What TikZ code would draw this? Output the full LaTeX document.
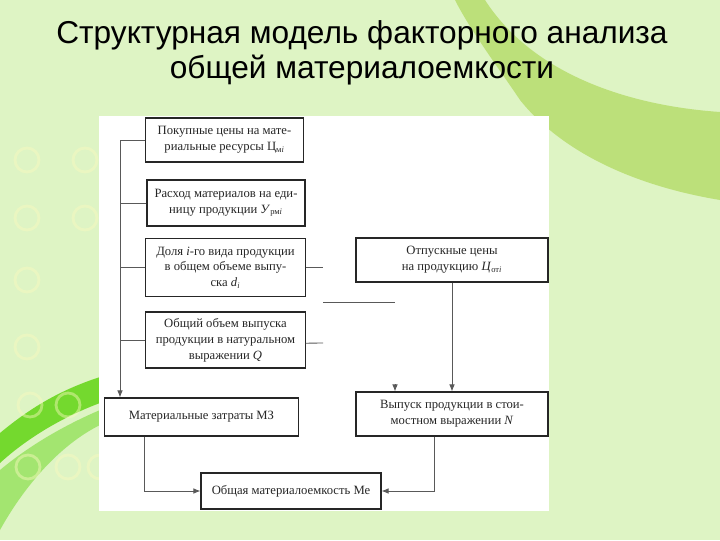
\documentclass[tikz,border=0pt]{standalone}
\usepackage{xcolor}
\usepackage{fontspec}
\setmainfont{Liberation Serif}
\newfontfamily\titlefont{Liberation Sans}
\usepackage{tikz}
\usetikzlibrary{arrows.meta}

\definecolor{slidebg}{RGB}{222,244,196}
\definecolor{swoosh}{RGB}{188,224,122}
\definecolor{brightgreen}{RGB}{105,215,30}
\definecolor{ringcol}{RGB}{250,250,190}

\begin{document}
\begin{tikzpicture}[x=0.025cm, y=-0.025cm, thick, font=\fontsize{9}{11.3}\selectfont]
    \tikzstyle{block} = [rectangle, draw=black!85, line width=0.8pt, fill=white, text=black!85, align=center, inner sep=2pt]
    \tikzstyle{line} = [draw, black!65, line width=0.6pt, -{Latex[length=5pt, width=4pt]}]
    \tikzstyle{wire} = [draw, black!65, line width=0.6pt]
    \tikzstyle{headline} = [font=\titlefont\fontsize{22.5}{25}\selectfont, anchor=base]

    % slide background
    \useasboundingbox (0,0) rectangle (720,540);
    \fill[slidebg] (0,0) rectangle (720,540);
    \fill[swoosh] (485,0) .. controls (530,70) and (620,105) .. (720,112) -- (720,200) .. controls (630,185) and (560,150) .. (520,100) .. controls (500,70) and (470,30) .. (455,0) -- cycle;
    \fill[brightgreen, opacity=0.5] (0,470) .. controls (30,445) and (65,425) .. (100,410) -- (100,425) .. controls (60,445) and (25,485) .. (0,530) -- cycle;
    \fill[brightgreen, opacity=0.9] (0,433) .. controls (30,408) and (60,390) .. (100,377) -- (100,403) .. controls (60,418) and (25,440) .. (0,463) -- cycle;
    \foreach \cx/\cy in {27/160, 85/160, 27/218, 85/218, 27/280, 27/347, 30/405, 68/405, 28/467, 68/467, 100/467}
        \draw[ringcol, opacity=0.45, line width=2pt] (\cx,\cy) circle (12);
    \fill[white] (99,116) rectangle (549,511);

    % title
    \node [headline] (title1) at (362,43) {Структурная модель факторного анализа};
    \node [headline] (title2) at (362,78) {общей материалоемкости};

    % factor blocks
    \node [block, minimum width=3.93cm, minimum height=1.1cm] (price) at (224.5,140) {Покупные цены на мате-\\риальные ресурсы Ц\textsubscript{м\textit{i}}};
    \node [block, minimum width=3.95cm, minimum height=1.15cm] (norm) at (226,203) {Расход материалов на еди-\\ницу продукции \textit{У}\textsubscript{рм\textit{i}}};
    \node [block, minimum width=3.98cm, minimum height=1.43cm] (share) at (225.5,267.5) {Доля \textit{i}-го вида продукции\\в общем объеме выпу-\\ска \textit{d}\textsubscript{\textit{i}}};
    \node [block, minimum width=3.98cm, minimum height=1.4cm] (volume) at (225.5,340) {Общий объем выпуска\\продукции в натуральном\\выражении \textit{Q}};
    \node [block, minimum width=4.8cm, minimum height=1.1cm] (sale) at (452,260) {Отпускные цены\\на продукцию \textit{Ц}\textsubscript{от\textit{i}}};
    \node [block, minimum width=4.8cm, minimum height=1.1cm] (output) at (452,414) {Выпуск продукции в стои-\\мостном выражении \textit{N}};
    \node [block, minimum width=4.83cm, minimum height=0.95cm] (cost) at (201.5,417) {Материальные затраты МЗ};
    \node [block, minimum width=4.5cm, minimum height=0.9cm] (intensity) at (291,491) {Общая материалоемкость Ме};

    \coordinate (bus) at (120,140);
    \coordinate (stubA) at (323,267.5);
    \coordinate (stubB) at (323,343);
    \coordinate (midA) at (323,302);
    \coordinate (midB) at (395,302);
    \coordinate (drop) at (395,384);

    % connectors
    \path [line] (price.west) -- (bus) -- (bus |- cost.north);
    \path [wire] (norm.west) -- (norm.west -| bus);
    \path [wire] (share.west) -- (share.west -| bus);
    \path [wire] (volume.west) -- (volume.west -| bus);
    \path [wire] (share.east) -- (stubA);
    \path [wire] ([yshift=-0.08cm]volume.east) -- (stubB);
    \path [wire] (midA) -- (midB);
    \path [line] (drop) -- (drop |- output.north);
    \path [line] (sale) -- (output);
    \path [line] ([xshift=1cm]cost.south west) |- (intensity.west);
    \path [line] ([xshift=-0.43cm]output.south) |- (intensity.east);
\end{tikzpicture}
\end{document}
